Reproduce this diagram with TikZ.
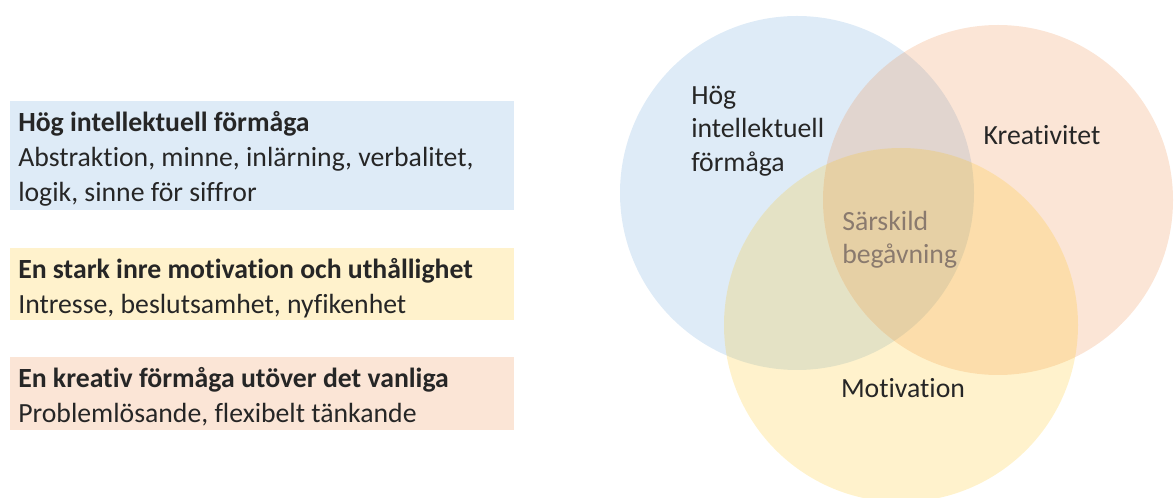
\documentclass[tikz,border=0pt]{standalone}
\usepackage{fontspec}
\setmainfont{Carlito}[Ligatures=NoCommon]
\usepackage{tikz}
\usetikzlibrary{positioning}

\definecolor{boxblue}{RGB}{222,235,247}
\definecolor{boxgold}{RGB}{255,242,204}
\definecolor{boxorange}{RGB}{251,229,214}
\definecolor{accblue}{RGB}{91,155,213}
\definecolor{accgold}{RGB}{255,192,0}
\definecolor{accorange}{RGB}{237,125,49}
\definecolor{textdark}{RGB}{38,38,38}
\definecolor{textcore}{RGB}{138,122,110}

\tikzset{
  boxtext/.style={anchor=west,inner sep=0.75pt,align=left,text=textdark,font=\fontsize{20.8}{26}\selectfont},
  venntext/.style={inner sep=0.75pt,align=left,text=textdark,font=\fontsize{20.8}{25}\selectfont},
  venn/.style={draw=none,fill opacity=0.2}
}

\begin{document}
\begin{tikzpicture}[x=0.75pt,y=0.75pt,yscale=-1,xscale=1]
\useasboundingbox (0,0) rectangle (1174,498);

%Shape: Rectangle [blue]
\draw  [draw=none][fill=boxblue] (10,101) -- (514,101) -- (514,210) -- (10,210) -- cycle ;
%Shape: Rectangle [gold]
\draw  [draw=none][fill=boxgold] (10,248) -- (514,248) -- (514,320) -- (10,320) -- cycle ;
%Shape: Rectangle [orange]
\draw  [draw=none][fill=boxorange] (10,357) -- (514,357) -- (514,430) -- (10,430) -- cycle ;

% Text Node
\node (hoeg) [boxtext] at (17,159) {\textbf{Hög intellektuell förmåga}\\Abstraktion, minne, inlärning, verbalitet,\\logik, sinne för siffror};

% Text Node
\node (motiv) [boxtext] at (17,288) {\textbf{En stark inre motivation och uthållighet}\\Intresse, beslutsamhet, nyfikenhet};

% Text Node
\node (kreativ) [boxtext] at (17,397) {\textbf{En kreativ förmåga utöver det vanliga}\\Problemlösande, flexibelt tänkande};

%Shape: Circle [blue]
\fill  [venn,fill=accblue] (797,193) circle (177) ;
%Shape: Circle [orange]
\fill  [venn,fill=accorange] (998,200) circle (175) ;
%Shape: Circle [gold]
\fill  [venn,fill=accgold] (901,325) circle (177) ;

% Text Node
\node (vennhoeg) [venntext,anchor=north west] at (690,85) {Hög\\intellektuell\\förmåga};

% Text Node
\node (vennkreativ) [venntext] at (1042,135) {Kreativitet};

% Text Node
\node (vennsaer) [venntext,anchor=north west,text=textcore] at (841,210) {Särskild\\begåvning};

% Text Node
\node (vennmotiv) [venntext] at (903,388) {Motivation};

\end{tikzpicture}
\end{document}
